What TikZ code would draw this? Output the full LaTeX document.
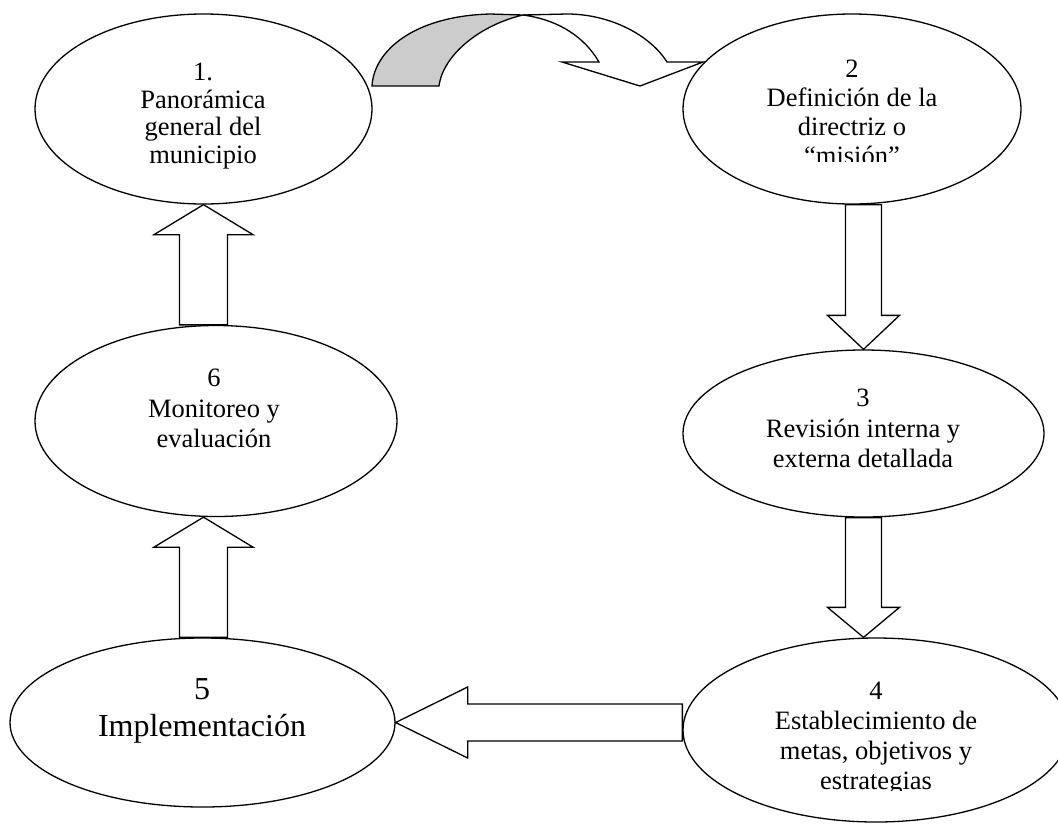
\documentclass[tikz,border=0pt]{standalone}
\usepackage{fontspec}
\setmainfont{Liberation Serif}
\usetikzlibrary{shapes.geometric,calc}
\begin{document}
\begin{tikzpicture}[x=1pt,y=-1pt,
  stage/.style={ellipse, draw, line width=1.3pt, inner sep=0pt, fill=white},
  lbl/.style={align=center, inner sep=0pt, font=\fontsize{26.5}{#1}\selectfont},
  lbl/.default=30.5,
  blockarrow/.style={draw, line width=1.3pt, fill=white, line join=miter},
  bandback/.style={draw, line width=1.3pt, fill=gray!40, line join=miter},
  bandfront/.style={draw, line width=1.3pt, fill=white, line join=miter}]
\useasboundingbox (0,0) rectangle (1058,823);

% stages of the cycle
\node[stage, minimum width=337pt, minimum height=190pt] (e1) at (203.5,109) {};
\node[stage, minimum width=338pt, minimum height=190pt] (e2) at (852,109) {};
\node[stage, minimum width=361pt, minimum height=167pt] (e3) at (863.5,433.5) {};
\node[stage, minimum width=386pt, minimum height=184pt] (e4) at (876,730) {};
\node[stage, minimum width=385pt, minimum height=169pt] (e5) at (202.5,722.5) {};
\node[stage, minimum width=362pt, minimum height=191pt] (e6) at (216,421) {};

% labels (the text frames of stages 2 and 4 cut off their last line)
\node[lbl=27.5] (l1) at (203,116) {1.\\Panorámica\\general del\\municipio};
\begin{scope}
  \clip (680,0) rectangle (1030,161);
  \node[lbl=29] (l2) at (852,112.5) {2\\Definición de la\\directriz o\\“misión”};
\end{scope}
\node[lbl] (l3) at (863,428.5) {3\\Revisión interna y\\externa detallada};
\begin{scope}
  \clip (680,600) rectangle (1058,790);
  \node[lbl=30] (l4) at (876,739) {4\\Establecimiento de\\metas, objetivos y\\estrategias};
\end{scope}
\node[align=center, inner sep=0pt, font=\fontsize{32}{37}\selectfont] (l5) at (202,711) {5\\Implementación};
\node[lbl] (l6) at (214,408.5) {6\\Monitoreo y\\evaluación};

% curved arrow 1 -> 2: shaded back of the band, then its front with the head
\path[bandback] (372,86) .. controls (374,50) and (415,16) .. (490,14)
  -- (523,15) .. controls (480,25) and (443,55) .. (439,86) -- cycle;
\path[bandfront] (523,15) -- (567,14) .. controls (610,14) and (650,35) .. (667,62)
  -- (703,62) -- (640,86) -- (562,62) -- (599,62)
  .. controls (585,38) and (560,20) .. (523,15) -- cycle;

% 2 -> 3
\draw[blockarrow] (e3.north) -- ++(36,-34) -- ++(-18,0)
  -- ($(e3.north |- e2.south)+(18,0)$) -- ($(e3.north |- e2.south)+(-18,0)$)
  -- ($(e3.north)+(-18,-34)$) -- ++(-18,0) -- cycle;

% 3 -> 4
\coordinate (t34) at (e3.north |- e4.north);
\draw[blockarrow] (t34) -- ++(36,-30) -- ++(-18,0)
  -- ($(t34 |- e3.south)+(18,0)$) -- ($(t34 |- e3.south)+(-18,0)$)
  -- ($(t34)+(-18,-30)$) -- ++(-18,0) -- cycle;

% 4 -> 5
\draw[blockarrow] (e5.east) -- ++(72,-35.5) -- ++(0,17)
  -- ($(e5.east -| e4.west)+(0,-18.5)$) -- ($(e5.east -| e4.west)+(0,18.5)$)
  -- ($(e5.east)+(72,18.5)$) -- ++(0,17) -- cycle;

% 5 -> 6
\coordinate (t56) at (e1.south |- e6.south);
\draw[blockarrow] (t56) -- ++(49.5,30) -- ++(-25.5,0)
  -- ($(t56 |- e5.north)+(24,0)$) -- ($(t56 |- e5.north)+(-24,0)$)
  -- ($(t56)+(-24,30)$) -- ++(-25.5,0) -- cycle;

% 6 -> 1
\draw[blockarrow] (e1.south) -- ++(49.5,30) -- ++(-25.5,0)
  -- ($(e1.south |- e6.north)+(24,0)$) -- ($(e1.south |- e6.north)+(-24,0)$)
  -- ($(e1.south)+(-24,30)$) -- ++(-25.5,0) -- cycle;
\end{tikzpicture}
\end{document}
